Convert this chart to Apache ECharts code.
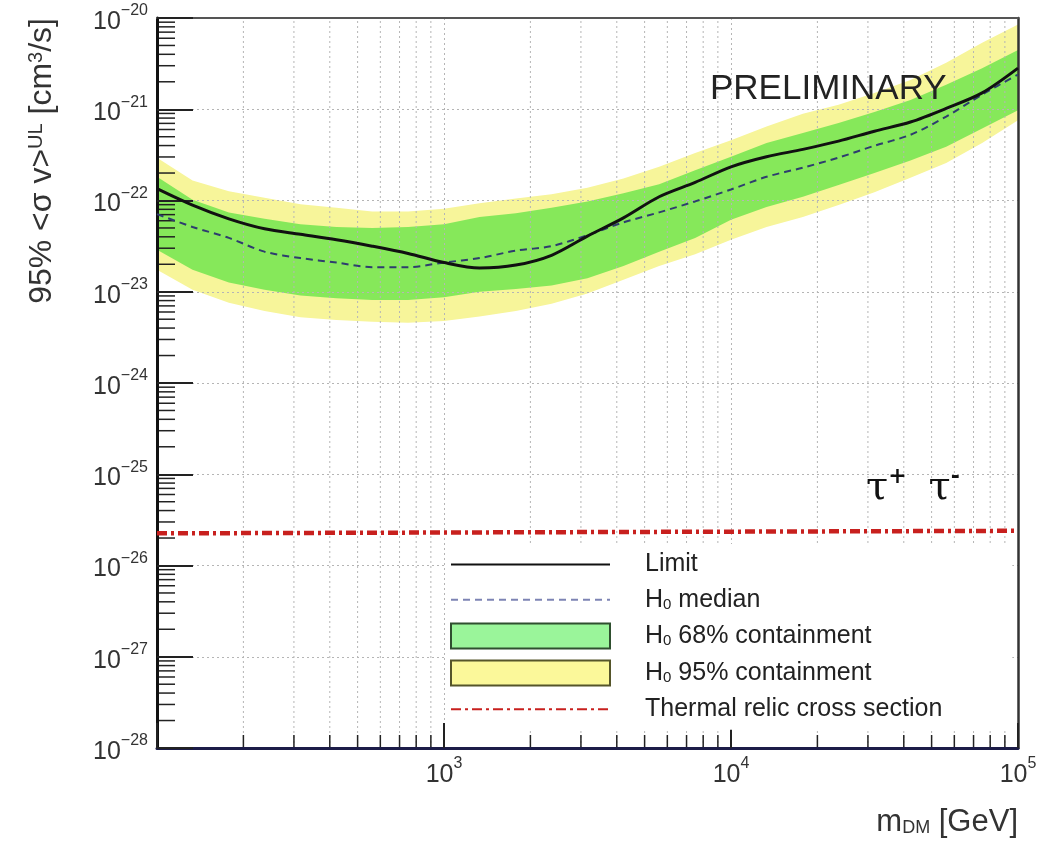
<!DOCTYPE html>
<html>
<head>
<meta charset="utf-8">
<title>DM tau tau limit</title>
<script src="https://cdn.jsdelivr.net/npm/echarts@6/dist/echarts.min.js"></script>
<style>
html, body { margin: 0; padding: 0; background: #fff; }
#chartBox { width: 1042px; height: 844px; }
</style>
</head>
<body>
<div id="chartBox"></div>
<script>
// m_DM [GeV]
var mass = [100, 133, 178, 237, 316, 422, 562, 750, 1000, 1330, 1780, 2370, 3160, 4220, 5620, 7500, 10000, 13300, 17800, 23700, 31600, 42200, 56200, 75000, 100000];
// 95% UL <sigma v> [cm^3/s]
var limit = [1.35e-22, 8.9e-23, 6.3e-23, 4.9e-23, 4.27e-23, 3.72e-23, 3.16e-23, 2.63e-23, 2.09e-23, 1.82e-23, 1.96e-23, 2.51e-23, 4.07e-23, 6.46e-23, 1.10e-22, 1.58e-22, 2.34e-22, 3.02e-22, 3.63e-22, 4.47e-22, 5.75e-22, 7.24e-22, 1.02e-21, 1.51e-21, 2.82e-21];
var median = [7.08e-23, 5.13e-23, 3.89e-23, 2.75e-23, 2.34e-23, 2.09e-23, 1.86e-23, 1.86e-23, 2.09e-23, 2.34e-23, 2.82e-23, 3.16e-23, 4.17e-23, 5.75e-23, 7.41e-23, 9.77e-23, 1.32e-22, 1.82e-22, 2.29e-22, 2.95e-22, 3.98e-22, 5.25e-22, 8.3e-22, 1.45e-21, 2.4e-21];
var band68Hi = [1.82e-22, 1.02e-22, 7.41e-23, 6.31e-23, 5.5e-23, 5.13e-23, 5.01e-23, 5.13e-23, 5.5e-23, 6.61e-23, 7.24e-23, 8.32e-23, 9.77e-23, 1.20e-22, 1.51e-22, 2.14e-22, 3.02e-22, 4.27e-22, 5.5e-22, 7.08e-22, 9.33e-22, 1.26e-21, 1.86e-21, 2.82e-21, 4.47e-21];
var band68Lo = [2.88e-23, 1.74e-23, 1.26e-23, 1.05e-23, 9.12e-24, 8.51e-24, 8.13e-24, 8.13e-24, 8.71e-24, 1.0e-23, 1.07e-23, 1.17e-23, 1.41e-23, 1.91e-23, 2.75e-23, 3.89e-23, 6.17e-23, 8.51e-23, 1.10e-22, 1.48e-22, 2.0e-22, 2.75e-22, 3.89e-22, 6.17e-22, 9.77e-22];
var band95Hi = [2.95e-22, 1.66e-22, 1.26e-22, 1.07e-22, 9.12e-23, 8.32e-23, 7.59e-23, 7.59e-23, 8.13e-23, 9.33e-23, 1.05e-22, 1.17e-22, 1.38e-22, 1.74e-22, 2.34e-22, 3.31e-22, 4.57e-22, 6.46e-22, 8.91e-22, 1.12e-21, 1.51e-21, 2.09e-21, 3.24e-21, 5.37e-21, 8.51e-21];
var band95Lo = [1.74e-23, 1.05e-23, 7.59e-24, 6.17e-24, 5.25e-24, 4.90e-24, 4.68e-24, 4.57e-24, 4.79e-24, 5.37e-24, 6.17e-24, 7.41e-24, 9.55e-24, 1.35e-23, 1.91e-23, 2.57e-23, 3.72e-23, 5.13e-23, 6.61e-23, 8.91e-23, 1.23e-22, 1.78e-22, 2.57e-22, 4.27e-22, 7.59e-22];
// thermal relic cross section
var thermalMass = [100, 100000];
var thermalXsec = [2.25e-26, 2.4e-26];

// axis range and ticks (y is drawn on a decade-exponent value axis,
// the log axis of echarts 6 can't handle a 1e-28 minimum)
var xMin = 100, xMax = 100000;
var yMinExp = -28, yMaxExp = -20;
var xMinorTicks = [200, 300, 400, 500, 600, 700, 800, 900, 2000, 3000, 4000, 5000, 6000, 7000, 8000, 9000, 20000, 30000, 40000, 50000, 60000, 70000, 80000, 90000];
var yMinorMant = [2, 3, 4, 5, 6, 7, 8, 9];
var yDecades = [-28, -27, -26, -25, -24, -23, -22, -21];

var FONT = '"Liberation Sans", Arial, sans-serif';

var yMinorTicks = [];
yDecades.forEach(function (d) {
    yMinorMant.forEach(function (m) { yMinorTicks.push(m * Math.pow(10, d)); });
});

function lg(v) { return Math.log10(v); }

function zip(xs, ys) {
    return xs.map(function (x, i) { return [x, lg(ys[i])]; });
}

// whole band as one polygon, drawn on the first item
function bandRender(lo, hi, color) {
    return function (params, api) {
        if (params.dataIndex !== 0) return null;
        var pts = [];
        for (var i = 0; i < mass.length; i++) pts.push(api.coord([mass[i], lg(hi[i])]));
        for (var j = mass.length - 1; j >= 0; j--) pts.push(api.coord([mass[j], lg(lo[j])]));
        return { type: 'polygon', shape: { points: pts }, style: { fill: color } };
    };
}

function expText(e) {
    e = Math.round(e);
    return '{b|10}{e|' + (e < 0 ? '\u2212' + (-e) : e) + '}';
}

var labelRich = {
    b: { fontFamily: FONT, fontSize: 25, color: '#333', lineHeight: 30, padding: [8, 0, 0, 0] },
    e: { fontFamily: FONT, fontSize: 16, color: '#333', lineHeight: 16, verticalAlign: 'top' }
};

// legend line items: hide the default symbol in the middle
var noSymbol = { opacity: 0, borderWidth: 0 };

var chart = echarts.init(document.getElementById('chartBox'));
var option = {
    backgroundColor: '#fff',
    animation: false,
    grid: { left: 157, right: 24, top: 18, bottom: 96 },
    xAxis: [{
        type: 'log', logBase: 10, min: xMin, max: xMax, interval: 1, z: 3,
        axisLine: { lineStyle: { color: '#1c1c48', width: 3 } },
        axisTick: { inside: true, length: 25, lineStyle: { color: '#222', width: 2 } },
        splitLine: { show: true, lineStyle: { color: '#b5b5b5', width: 1, type: [2, 3] } },
        axisLabel: {
            margin: 8,
            formatter: function (v) { return v < 500 ? '' : expText(lg(v)); },
            rich: labelRich
        }
    }, {
        type: 'log', logBase: 10, min: xMin, max: xMax, position: 'top', z: 3,
        axisLine: { lineStyle: { color: '#555', width: 2 } },
        axisTick: { show: false }, axisLabel: { show: false }, splitLine: { show: false }
    }],
    yAxis: [{
        type: 'value', min: yMinExp, max: yMaxExp, interval: 1, z: 3,
        axisLine: { show: true, lineStyle: { color: '#111', width: 3 } },
        axisTick: { inside: true, length: 36, lineStyle: { color: '#222', width: 2 } },
        splitLine: { show: true, lineStyle: { color: '#b5b5b5', width: 1, type: [2, 3] } },
        axisLabel: { margin: 9, formatter: expText, rich: labelRich }
    }, {
        type: 'value', min: yMinExp, max: yMaxExp, position: 'right', z: 3,
        axisLine: { show: true, lineStyle: { color: '#333', width: 2.5 } },
        axisTick: { show: false }, axisLabel: { show: false }, splitLine: { show: false }
    }],
    legend: {
        orient: 'vertical', left: 445, top: 544, z: 20,
        itemWidth: 159, itemHeight: 25, itemGap: 10.2,
        backgroundColor: '#fff', padding: [8, 70, 8, 5],
        selectedMode: false,
        data: [
            { name: 'Limit', itemStyle: noSymbol },
            { name: 'H0 median', itemStyle: noSymbol, lineStyle: { color: '#7d84b4' } },
            { name: 'H0 68% containment', icon: 'rect', itemStyle: { color: '#9af59a', borderColor: '#2f4f2f', borderWidth: 2 } },
            { name: 'H0 95% containment', icon: 'rect', itemStyle: { color: '#fbf89a', borderColor: '#55552a', borderWidth: 2 } },
            { name: 'Thermal relic cross section', itemStyle: noSymbol }
        ],
        formatter: function (name) { return name.replace('H0', 'H{s|0}'); },
        textStyle: {
            fontFamily: FONT, fontSize: 25, color: '#222', lineHeight: 25, padding: [0, 0, 0, 30],
            rich: { s: { fontFamily: FONT, fontSize: 15, color: '#222', verticalAlign: 'bottom', lineHeight: 14 } }
        }
    },
    graphic: [
        { type: 'text', left: 710, top: 72, z: 10, style: { text: 'PRELIMINARY', font: '35px ' + FONT, fill: '#222' } },
        {
            type: 'text', left: 866, top: 466, z: 10,
            style: {
                text: '{t|\u03c4}{s|+}{g| }{t|\u03c4}{s|-}',
                rich: {
                    t: { fontFamily: '"DejaVu Serif", serif', fontSize: 40, fill: '#111', lineHeight: 46 },
                    s: { fontFamily: '"DejaVu Serif", serif', fontSize: 22, fontWeight: 'bold', fill: '#111', lineHeight: 30, verticalAlign: 'top' },
                    g: { width: 22 }
                }
            }
        },
        {
            type: 'text', x: 42, y: 18, rotation: Math.PI / 2, z: 10,
            style: {
                text: '95% <\u03c3 v>{sup|UL} [cm{sup|3}/s]',
                fontFamily: FONT, fontSize: 32, fill: '#333', align: 'right', verticalAlign: 'middle',
                rich: { sup: { fontFamily: FONT, fontSize: 20, fill: '#333', lineHeight: 20, verticalAlign: 'top' } }
            }
        },
        {
            type: 'text', x: 1018, y: 822, z: 10,
            style: {
                text: 'm{sub|DM} [GeV]',
                fontFamily: FONT, fontSize: 31, fill: '#333', align: 'right', verticalAlign: 'middle',
                rich: { sub: { fontFamily: FONT, fontSize: 18, fill: '#333', lineHeight: 18, verticalAlign: 'bottom' } }
            }
        }
    ],
    series: [
        {
            name: 'H0 95% containment', type: 'custom', z: 1,
            itemStyle: { color: '#f7f59a' },
            renderItem: bandRender(band95Lo, band95Hi, '#f7f59a'),
            data: zip(mass, band95Hi)
        },
        {
            name: 'H0 68% containment', type: 'custom', z: 1,
            itemStyle: { color: '#86e85a' },
            renderItem: bandRender(band68Lo, band68Hi, '#86e85a'),
            data: zip(mass, band68Hi)
        },
        {
            // minor x grid lines and ticks
            name: 'xminor', type: 'custom', z: 3, silent: true,
            renderItem: function (params, api) {
                var v = api.value(0);
                var b = api.coord([v, yMinExp]);
                var t = api.coord([v, yMaxExp]);
                return {
                    type: 'group', children: [
                        { type: 'line', shape: { x1: b[0], y1: b[1], x2: t[0], y2: t[1] }, style: { stroke: '#b5b5b5', lineWidth: 1, lineDash: [2, 3] } },
                        { type: 'line', shape: { x1: b[0], y1: b[1], x2: b[0], y2: b[1] - 13 }, style: { stroke: '#222', lineWidth: 1.5 } }
                    ]
                };
            },
            data: xMinorTicks.map(function (v) { return [v, yMinExp]; })
        },
        {
            // minor y ticks
            name: 'yminor', type: 'custom', z: 3, silent: true,
            renderItem: function (params, api) {
                var p = api.coord([xMin, api.value(1)]);
                return { type: 'line', shape: { x1: p[0], y1: p[1], x2: p[0] + 18, y2: p[1] }, style: { stroke: '#222', lineWidth: 1.5 } };
            },
            data: yMinorTicks.map(function (v) { return [xMin, lg(v)]; })
        },
        {
            name: 'Thermal relic cross section', type: 'line', z: 5, symbol: 'none',
            lineStyle: { color: '#c8201e', width: 4.5, type: [10, 4, 3, 4] },
            data: zip(thermalMass, thermalXsec)
        },
        {
            name: 'H0 median', type: 'line', z: 5, symbol: 'none', smooth: 0.3,
            lineStyle: { color: '#2e3d6e', width: 2, type: [7, 5] },
            data: zip(mass, median)
        },
        {
            name: 'Limit', type: 'line', z: 6, symbol: 'none', smooth: 0.3,
            lineStyle: { color: '#111', width: 3 },
            data: zip(mass, limit)
        }
    ]
};
chart.setOption(option);
</script>
</body>
</html>
